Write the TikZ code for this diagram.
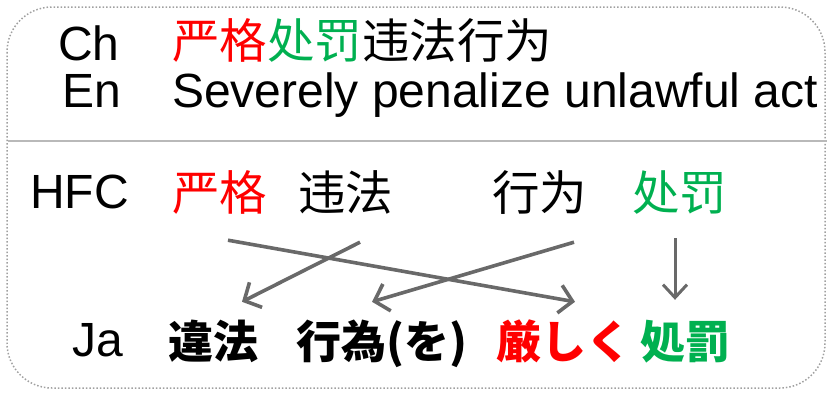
\documentclass[tikz,border=0pt]{standalone}
\usepackage{fontspec}
\setmainfont{Liberation Sans}
\newfontfamily\zhfont{Noto Sans CJK SC}
\newfontfamily\jafont{Noto Sans CJK JP}
\usetikzlibrary{arrows.meta}
\definecolor{myred}{RGB}{255,0,0}
\definecolor{mygreen}{RGB}{0,176,80}
\definecolor{arrgray}{RGB}{105,105,105}
\definecolor{framegray}{RGB}{160,160,160}
\definecolor{sepgray}{RGB}{185,185,185}
\begin{document}
\begin{tikzpicture}[x=1pt,y=-1pt,
  lat/.style={anchor=base west, inner sep=0pt, font=\fontsize{48}{56}\selectfont},
  zh/.style={anchor=base west, inner sep=0pt, text height=36pt, text depth=8pt, font=\zhfont\fontsize{47.5}{56}\selectfont},
  ja/.style={anchor=base west, inner sep=0pt, text height=36pt, text depth=8pt, font=\jafont\bfseries\fontsize{45}{56}\selectfont},
  arr/.style={draw=arrgray, line width=3.6pt, -{Straight Barb[length=13pt,width=28pt,line width=3.6pt]}},
  arrthin/.style={draw=arrgray, line width=3pt, -{Straight Barb[length=13pt,width=24pt,line width=3pt]}}
]
\useasboundingbox (0,0) rectangle (827,392);
\draw[framegray, line width=1.5pt, dotted, rounded corners=45pt] (7,7) rectangle (825,388);
\draw[sepgray, line width=2pt] (8,141) -- (827,141);

% Ch / En rows
\node[lat] (lch) at (58,60) {Ch};
\node[zh] (chs) at (172,58) {\textcolor{myred}{严格}\textcolor{mygreen}{处罚}违法行为};
\node[lat] (len) at (62,107) {En};
\node[lat] (ens) at (172,107) {Severely penalize unlawful act};

% HFC row
\node[lat] (lhfc) at (30,208) {HFC};
\node[zh, text=myred] (h1) at (172,210) {严格};
\node[zh] (h2) at (298,210) {违法};
\node[zh] (h3) at (492,210) {行为};
\node[zh, text=mygreen] (h4) at (632,210) {处罚};

% Ja row
\node[lat] (lja) at (72,356) {Ja};
\node[ja] (j1) at (168,358) {違法};
\node[ja] (j2) at (296,358) {行為(を)};
\node[ja, text=myred] (j3) at (496,358) {厳しく};
\node[ja, text=mygreen] (j4) at (640,358) {処罰};

% arrows
\draw[arr] ([shift={(56,22)}]h1.south west) -- ([shift={(79,-20)}]j3.north west);
\draw[arr] ([shift={(62,24)}]h2.south west) -- ([shift={(74,-20)}]j1.north west);
\draw[arr] ([shift={(82,24)}]h3.south west) -- ([shift={(76,-20)}]j2.north west);
\draw[arrthin] ([shift={(43,20)}]h4.south west) -- ([shift={(35,-22)}]j4.north west);
\end{tikzpicture}
\end{document}
